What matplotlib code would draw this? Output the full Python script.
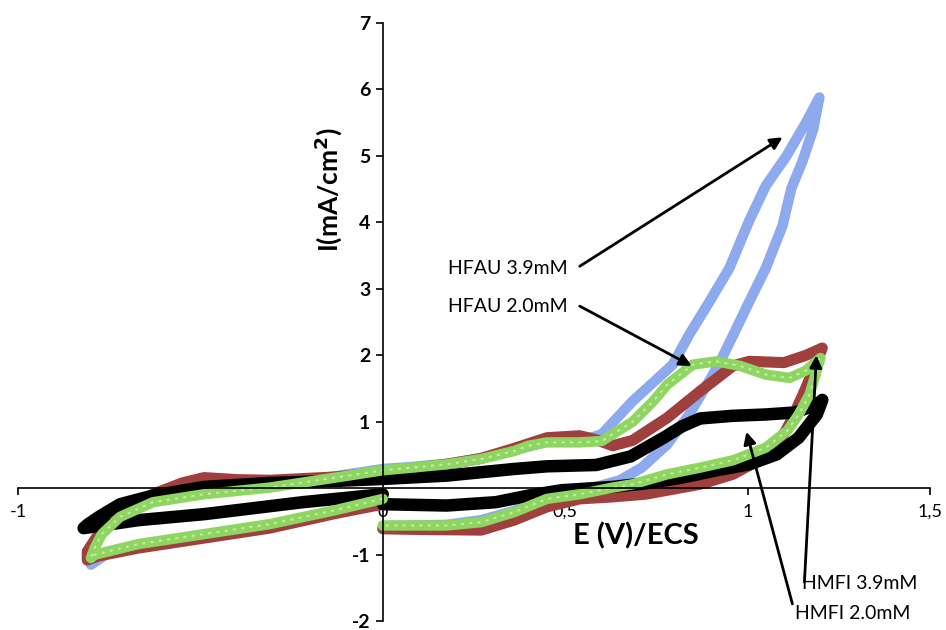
import numpy as np
import matplotlib
matplotlib.use("Agg")
import matplotlib.pyplot as plt

# cyclic voltammograms, E (V) vs I (mA/cm2)
hfau39_E = [0, -0.13, -0.31, -0.49, -0.67, -0.76, -0.8,
            -0.8, -0.78, -0.75, -0.72, -0.63, -0.49, -0.31, -0.13, 0,
            0.08, 0.175, 0.27, 0.36, 0.45, 0.54, 0.6, 0.685, 0.795, 0.84, 0.896, 0.95,
            1.005, 1.05, 1.107, 1.16, 1.197,
            1.18, 1.15, 1.12, 1.096, 1.05, 1.005, 0.97, 0.93, 0.9, 0.84, 0.78, 0.71, 0.65,
            0.54, 0.45, 0.36, 0.27, 0.175, 0]
hfau39_I = [-0.16, -0.35, -0.56, -0.72, -0.88, -1.0, -1.15,
            -1.0, -0.75, -0.55, -0.42, -0.19, -0.07, 0.03, 0.18, 0.29,
            0.32, 0.37, 0.45, 0.57, 0.7, 0.71, 0.81, 1.31, 1.86, 2.31, 2.81, 3.31,
            4.03, 4.55, 5.0, 5.5, 5.88,
            5.4, 4.91, 4.51, 3.95, 3.31, 2.81, 2.41, 1.96, 1.66, 1.11, 0.66, 0.31, 0.12,
            -0.05, -0.14, -0.34, -0.48, -0.55, -0.57]

hmfi39_E = [0, -0.13, -0.31, -0.49, -0.67, -0.78, -0.81,
            -0.81, -0.78, -0.72, -0.63, -0.55, -0.49, -0.4, -0.31, -0.13, 0,
            0.175, 0.27, 0.36, 0.45, 0.54, 0.585, 0.63, 0.685, 0.78, 0.87, 0.96, 1.005,
            1.1, 1.16, 1.205,
            1.16, 1.12, 1.09, 1.03, 0.96, 0.87, 0.78, 0.72, 0.63, 0.54, 0.45, 0.36, 0.27,
            0.1, 0]
hmfi39_I = [-0.24, -0.38, -0.6, -0.75, -0.9, -1.02, -1.08,
            -0.95, -0.7, -0.38, -0.09, 0.08, 0.16, 0.13, 0.12, 0.17, 0.24,
            0.36, 0.45, 0.6, 0.76, 0.79, 0.73, 0.64, 0.72, 1.06, 1.46, 1.84, 1.91,
            1.89, 2.0, 2.11,
            1.51, 1.02, 0.72, 0.42, 0.21, 0.06, -0.03, -0.09, -0.13, -0.16, -0.28, -0.48, -0.63,
            -0.62, -0.61]

hmfi20_E = [0, -0.22, -0.49, -0.67, -0.82,
            -0.81, -0.775, -0.72, -0.63, -0.49, -0.31, -0.13, 0,
            0.175, 0.36, 0.45, 0.585, 0.68, 0.77, 0.82, 0.87, 0.96, 1.05, 1.13, 1.19, 1.205,
            1.19, 1.14, 1.08, 1.005, 0.915, 0.82, 0.73, 0.63, 0.49, 0.4, 0.31, 0.175, 0]
hmfi20_I = [-0.09, -0.21, -0.39, -0.48, -0.6,
            -0.55, -0.42, -0.24, -0.11, 0.02, 0.08, 0.11, 0.14,
            0.19, 0.29, 0.33, 0.35, 0.48, 0.76, 0.93, 1.05, 1.09, 1.11, 1.14, 1.26, 1.33,
            1.11, 0.76, 0.51, 0.36, 0.27, 0.16, 0.08, 0.02, -0.03, -0.11, -0.21, -0.26, -0.24]

hfau20_E = [0, -0.13, -0.31, -0.49, -0.67, -0.79, -0.8,
            -0.79, -0.77, -0.72, -0.63, -0.49, -0.31, -0.13, 0,
            0.08, 0.175, 0.27, 0.36, 0.4, 0.45, 0.54, 0.6, 0.685, 0.74, 0.78, 0.85, 0.915,
            0.98, 1.05, 1.115, 1.16, 1.2,
            1.17, 1.14, 1.11, 1.05, 0.96, 0.87, 0.78, 0.685, 0.63, 0.54, 0.45, 0.36, 0.27,
            0.175, 0]
hfau20_I = [-0.16, -0.33, -0.54, -0.69, -0.84, -1.0, -1.05,
            -0.9, -0.69, -0.43, -0.21, -0.09, 0.01, 0.16, 0.27,
            0.31, 0.36, 0.44, 0.56, 0.64, 0.69, 0.69, 0.71, 1.0, 1.3, 1.56, 1.86, 1.91,
            1.84, 1.71, 1.66, 1.77, 1.96,
            1.41, 1.11, 0.87, 0.61, 0.42, 0.31, 0.21, 0.06, 0.01, -0.09, -0.16, -0.36, -0.51,
            -0.56, -0.56]

x_ticks = [-1, 0, 0.5, 1, 1.5]
x_labels = ["-1", "0", "0,5", "1", "1,5"]
y_ticks = [-2, -1, 1, 2, 3, 4, 5, 6, 7]

fig = plt.figure(figsize=(9.46, 6.30), dpi=100)
ax = fig.add_axes([0.019, 0.014, 0.964, 0.9495])

kw = dict(solid_joinstyle="round", solid_capstyle="round")
ax.plot(hfau39_E, hfau39_I, color="#8eaaee", lw=7.5, **kw)
ax.plot(hmfi39_E, hmfi39_I, color="#a0403e", lw=8, **kw)
ax.plot(hmfi20_E, hmfi20_I, color="black", lw=9, **kw)
ax.plot(hfau20_E, hfau20_I, color="#8fd562", lw=7.5, **kw)
ax.plot(hfau20_E, hfau20_I, color="#c2eca5", lw=1.5, ls=(0, (1.5, 2.5)))

ax.set_xlim(-1, 1.5)
ax.set_ylim(-2, 7)
ax.spines["left"].set_position(("data", 0))
ax.spines["bottom"].set_position(("data", 0))
ax.spines["top"].set_visible(False)
ax.spines["right"].set_visible(False)
ax.spines["left"].set_linewidth(1.2)
ax.spines["bottom"].set_linewidth(1.2)
ax.patch.set_visible(False)

ax.set_xticks(x_ticks)
ax.set_xticklabels(x_labels, fontsize=13, fontfamily="Lato")
ax.set_yticks(y_ticks)
ax.set_yticklabels([str(v) for v in y_ticks], fontsize=14, fontweight="bold", fontfamily="Lato")
ax.tick_params(axis="x", direction="out", length=5, width=1.2, pad=6)
ax.tick_params(axis="y", direction="out", length=5, width=1.2, pad=4)

ax.text(0.695, -0.72, "E (V)/ECS", fontsize=21, fontweight="bold", fontfamily="Lato",
        ha="center", va="center")
ax.text(-0.15, 4.5, "I(mA/cm$^\\mathbf{2}$)", fontsize=19, fontweight="bold", fontfamily="Lato",
        rotation=90, ha="center", va="center")

akw = dict(arrowstyle="-|>", color="black", lw=2, mutation_scale=18, shrinkA=0, shrinkB=0)
tkw = dict(fontsize=14, fontfamily="Lato", va="center")
ax.text(0.18, 3.31, "HFAU 3.9mM", **tkw)
ax.annotate("", xy=(1.096, 5.28), xytext=(0.54, 3.34), arrowprops=akw)
ax.text(0.18, 2.74, "HFAU 2.0mM", **tkw)
ax.annotate("", xy=(0.847, 1.84), xytext=(0.54, 2.74), arrowprops=akw)
ax.text(1.15, -1.44, "HMFI 3.9mM", **tkw)
ax.annotate("", xy=(1.189, 2.0), xytext=(1.156, -1.41), arrowprops=akw)
ax.text(1.13, -1.89, "HMFI 2.0mM", **tkw)
ax.annotate("", xy=(0.997, 0.85), xytext=(1.123, -1.74), arrowprops=akw)

fig.savefig("out.png", dpi=100)
